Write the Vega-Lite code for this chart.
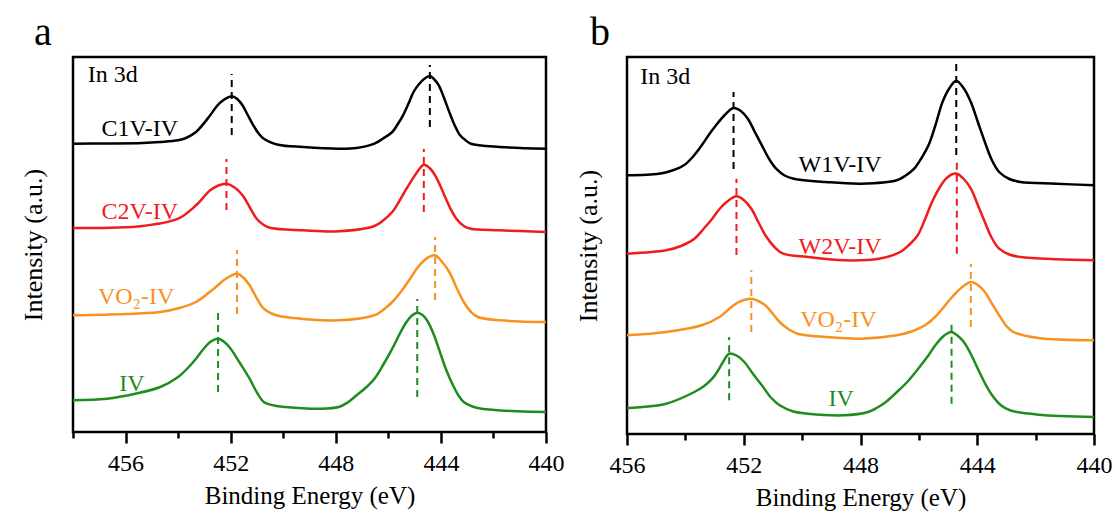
{
  "$schema": "https://vega.github.io/schema/vega-lite/v6.json",
  "background": "white",
  "padding": {"left": 18, "top": 11, "right": 5, "bottom": 5},
  "spacing": 81,
  "bounds": "flush",
  "config": {
    "view": {"stroke": "black", "strokeWidth": 2.5},
    "font": "Liberation Serif, serif"
  },
  "resolve": {"scale": {"color": "shared"}},
  "datasets": {
    "ca": [
      {"series": "C1V-IV", "be": 458.0, "intensity": 288.3}, {"series": "C1V-IV", "be": 456.7, "intensity": 288.5}, {"series": "C1V-IV", "be": 455.35, "intensity": 289}, {"series": "C1V-IV", "be": 454.68, "intensity": 290}, {"series": "C1V-IV", "be": 454.0, "intensity": 291.7}, {"series": "C1V-IV", "be": 453.32, "intensity": 300}, {"series": "C1V-IV", "be": 452.78, "intensity": 316.7}, {"series": "C1V-IV", "be": 452.37, "intensity": 330}, {"series": "C1V-IV", "be": 451.96, "intensity": 335.7}, {"series": "C1V-IV", "be": 451.55, "intensity": 326.7}, {"series": "C1V-IV", "be": 451.14, "intensity": 306.7}, {"series": "C1V-IV", "be": 450.74, "intensity": 293.3}, {"series": "C1V-IV", "be": 450.19, "intensity": 287.3}, {"series": "C1V-IV", "be": 449.24, "intensity": 285}, {"series": "C1V-IV", "be": 447.89, "intensity": 283.3}, {"series": "C1V-IV", "be": 447.21, "intensity": 284}, {"series": "C1V-IV", "be": 446.53, "intensity": 288.3}, {"series": "C1V-IV", "be": 445.85, "intensity": 300}, {"series": "C1V-IV", "be": 445.44, "intensity": 316.7}, {"series": "C1V-IV", "be": 445.04, "intensity": 340}, {"series": "C1V-IV", "be": 444.63, "intensity": 353.3}, {"series": "C1V-IV", "be": 444.42, "intensity": 356}, {"series": "C1V-IV", "be": 444.08, "intensity": 346.7}, {"series": "C1V-IV", "be": 443.68, "intensity": 320}, {"series": "C1V-IV", "be": 443.27, "intensity": 296.7}, {"series": "C1V-IV", "be": 442.86, "intensity": 288.3}, {"series": "C1V-IV", "be": 441.77, "intensity": 285}, {"series": "C1V-IV", "be": 440.0, "intensity": 283.3},
      {"series": "C1V-IV", "be": 453.7, "intensity": 294}, {"series": "C1V-IV", "be": 452.55, "intensity": 325}, {"series": "C1V-IV", "be": 451.75, "intensity": 333}, {"series": "C1V-IV", "be": 451.35, "intensity": 317}, {"series": "C1V-IV", "be": 450.95, "intensity": 299}, {"series": "C1V-IV", "be": 446.2, "intensity": 293.5}, {"series": "C1V-IV", "be": 445.65, "intensity": 307.5}, {"series": "C1V-IV", "be": 445.24, "intensity": 328}, {"series": "C1V-IV", "be": 444.83, "intensity": 348}, {"series": "C1V-IV", "be": 444.25, "intensity": 352.5}, {"series": "C1V-IV", "be": 443.88, "intensity": 334}, {"series": "C1V-IV", "be": 443.48, "intensity": 307}, {"series": "C1V-IV", "be": 443.05, "intensity": 291.5},
      {"series": "C2V-IV", "be": 458.0, "intensity": 204}, {"series": "C2V-IV", "be": 455.35, "intensity": 206}, {"series": "C2V-IV", "be": 454.0, "intensity": 213.3}, {"series": "C2V-IV", "be": 453.32, "intensity": 226.7}, {"series": "C2V-IV", "be": 452.78, "intensity": 241.7}, {"series": "C2V-IV", "be": 452.16, "intensity": 248.3}, {"series": "C2V-IV", "be": 451.55, "intensity": 236.7}, {"series": "C2V-IV", "be": 451.01, "intensity": 213.3}, {"series": "C2V-IV", "be": 450.47, "intensity": 204}, {"series": "C2V-IV", "be": 449.24, "intensity": 201.7}, {"series": "C2V-IV", "be": 447.89, "intensity": 200.7}, {"series": "C2V-IV", "be": 446.53, "intensity": 206}, {"series": "C2V-IV", "be": 445.85, "intensity": 220}, {"series": "C2V-IV", "be": 445.31, "intensity": 243.3}, {"series": "C2V-IV", "be": 444.9, "intensity": 260}, {"series": "C2V-IV", "be": 444.65, "intensity": 267.3}, {"series": "C2V-IV", "be": 444.22, "intensity": 256.7}, {"series": "C2V-IV", "be": 443.81, "intensity": 233.3}, {"series": "C2V-IV", "be": 443.41, "intensity": 213.3}, {"series": "C2V-IV", "be": 442.86, "intensity": 203.3}, {"series": "C2V-IV", "be": 441.77, "intensity": 201.7}, {"series": "C2V-IV", "be": 440.0, "intensity": 200},
      {"series": "C2V-IV", "be": 452.47, "intensity": 246.5}, {"series": "C2V-IV", "be": 451.85, "intensity": 244.5}, {"series": "C2V-IV", "be": 451.28, "intensity": 225}, {"series": "C2V-IV", "be": 450.74, "intensity": 207}, {"series": "C2V-IV", "be": 446.2, "intensity": 211.5}, {"series": "C2V-IV", "be": 445.58, "intensity": 231}, {"series": "C2V-IV", "be": 444.43, "intensity": 264}, {"series": "C2V-IV", "be": 444.02, "intensity": 246}, {"series": "C2V-IV", "be": 443.61, "intensity": 222}, {"series": "C2V-IV", "be": 443.13, "intensity": 206},
      {"series": "VO2-IV", "be": 458.0, "intensity": 116.7}, {"series": "VO2-IV", "be": 456.0, "intensity": 118}, {"series": "VO2-IV", "be": 454.68, "intensity": 120}, {"series": "VO2-IV", "be": 453.32, "intensity": 130}, {"series": "VO2-IV", "be": 452.64, "intensity": 143.3}, {"series": "VO2-IV", "be": 452.2, "intensity": 153}, {"series": "VO2-IV", "be": 451.76, "intensity": 158.3}, {"series": "VO2-IV", "be": 451.5, "intensity": 154}, {"series": "VO2-IV", "be": 451.28, "intensity": 146.7}, {"series": "VO2-IV", "be": 450.74, "intensity": 123.3}, {"series": "VO2-IV", "be": 449.92, "intensity": 115}, {"series": "VO2-IV", "be": 447.89, "intensity": 111.7}, {"series": "VO2-IV", "be": 446.53, "intensity": 116.7}, {"series": "VO2-IV", "be": 445.85, "intensity": 130}, {"series": "VO2-IV", "be": 445.17, "intensity": 153.3}, {"series": "VO2-IV", "be": 444.63, "intensity": 171.7}, {"series": "VO2-IV", "be": 444.22, "intensity": 176.7}, {"series": "VO2-IV", "be": 443.68, "intensity": 160}, {"series": "VO2-IV", "be": 443.13, "intensity": 130}, {"series": "VO2-IV", "be": 442.59, "intensity": 115}, {"series": "VO2-IV", "be": 441.77, "intensity": 111.7}, {"series": "VO2-IV", "be": 440.0, "intensity": 110},
      {"series": "VO2-IV", "be": 453.95, "intensity": 124}, {"series": "VO2-IV", "be": 451.0, "intensity": 133.5}, {"series": "VO2-IV", "be": 450.35, "intensity": 117.5}, {"series": "VO2-IV", "be": 446.2, "intensity": 122}, {"series": "VO2-IV", "be": 445.5, "intensity": 141}, {"series": "VO2-IV", "be": 444.9, "intensity": 164}, {"series": "VO2-IV", "be": 444.42, "intensity": 175.5}, {"series": "VO2-IV", "be": 443.95, "intensity": 170}, {"series": "VO2-IV", "be": 443.4, "intensity": 144}, {"series": "VO2-IV", "be": 442.85, "intensity": 120},
      {"series": "IV", "be": 458.0, "intensity": 31.7}, {"series": "IV", "be": 456.71, "intensity": 33.3}, {"series": "IV", "be": 455.63, "intensity": 38.3}, {"series": "IV", "be": 454.68, "intensity": 45}, {"series": "IV", "be": 454.0, "intensity": 55}, {"series": "IV", "be": 453.32, "intensity": 73.3}, {"series": "IV", "be": 452.78, "intensity": 90}, {"series": "IV", "be": 452.48, "intensity": 93.3}, {"series": "IV", "be": 452.0, "intensity": 83.3}, {"series": "IV", "be": 451.28, "intensity": 53.3}, {"series": "IV", "be": 450.74, "intensity": 30}, {"series": "IV", "be": 449.92, "intensity": 25}, {"series": "IV", "be": 448.57, "intensity": 23.3}, {"series": "IV", "be": 447.89, "intensity": 25}, {"series": "IV", "be": 447.21, "intensity": 36.7}, {"series": "IV", "be": 446.53, "intensity": 53.3}, {"series": "IV", "be": 445.85, "intensity": 83.3}, {"series": "IV", "be": 445.31, "intensity": 110}, {"series": "IV", "be": 444.9, "intensity": 119.3}, {"series": "IV", "be": 444.49, "intensity": 110}, {"series": "IV", "be": 444.08, "intensity": 83.3}, {"series": "IV", "be": 443.54, "intensity": 46.7}, {"series": "IV", "be": 443.13, "intensity": 30}, {"series": "IV", "be": 442.45, "intensity": 23.3}, {"series": "IV", "be": 441.09, "intensity": 20.7}, {"series": "IV", "be": 440.0, "intensity": 20},
      {"series": "IV", "be": 453.65, "intensity": 63.5}, {"series": "IV", "be": 453.05, "intensity": 82.5}, {"series": "IV", "be": 452.24, "intensity": 90}, {"series": "IV", "be": 451.65, "intensity": 69}, {"series": "IV", "be": 451.0, "intensity": 39.5}, {"series": "IV", "be": 450.35, "intensity": 26.5}, {"series": "IV", "be": 447.55, "intensity": 29.5}, {"series": "IV", "be": 446.87, "intensity": 44}, {"series": "IV", "be": 446.2, "intensity": 67}, {"series": "IV", "be": 445.58, "intensity": 97.5}, {"series": "IV", "be": 445.1, "intensity": 116.5}, {"series": "IV", "be": 444.7, "intensity": 117}, {"series": "IV", "be": 444.28, "intensity": 98}, {"series": "IV", "be": 443.81, "intensity": 63}, {"series": "IV", "be": 443.33, "intensity": 36.5}, {"series": "IV", "be": 442.8, "intensity": 25.5}
    ],
    "ra": [
      {"series": "C1V-IV", "be": 451.96, "intensity": 297, "intensity2": 358}, {"series": "C1V-IV", "be": 444.42, "intensity": 305, "intensity2": 367},
      {"series": "C2V-IV", "be": 452.16, "intensity": 222, "intensity2": 273}, {"series": "C2V-IV", "be": 444.65, "intensity": 220, "intensity2": 283},
      {"series": "VO2-IV", "be": 451.76, "intensity": 118, "intensity2": 182}, {"series": "VO2-IV", "be": 444.22, "intensity": 132, "intensity2": 195},
      {"series": "IV", "be": 452.48, "intensity": 40, "intensity2": 120}, {"series": "IV", "be": 444.9, "intensity": 35, "intensity2": 133}
    ],
    "la": [
      {"series": "C1V-IV", "label": "C1V-IV", "be": 455.46, "intensity": 303},
      {"series": "C2V-IV", "label": "C2V-IV", "be": 455.46, "intensity": 220},
      {"series": "VO2-IV", "label": "VO₂-IV", "be": 455.6, "intensity": 135},
      {"series": "IV", "label": "IV", "be": 455.76, "intensity": 48}
    ],
    "cb": [
      {"series": "W1V-IV", "be": 456.0, "intensity": 258.7}, {"series": "W1V-IV", "be": 454.9, "intensity": 260.3}, {"series": "W1V-IV", "be": 454.05, "intensity": 268.7}, {"series": "W1V-IV", "be": 453.44, "intensity": 288.7}, {"series": "W1V-IV", "be": 452.95, "intensity": 308.7}, {"series": "W1V-IV", "be": 452.35, "intensity": 326}, {"series": "W1V-IV", "be": 451.86, "intensity": 315.3}, {"series": "W1V-IV", "be": 451.38, "intensity": 288.7}, {"series": "W1V-IV", "be": 450.89, "intensity": 265.3}, {"series": "W1V-IV", "be": 450.29, "intensity": 255.3}, {"series": "W1V-IV", "be": 449.19, "intensity": 252}, {"series": "W1V-IV", "be": 447.98, "intensity": 250.3}, {"series": "W1V-IV", "be": 446.76, "intensity": 253.7}, {"series": "W1V-IV", "be": 446.16, "intensity": 265.3}, {"series": "W1V-IV", "be": 445.67, "intensity": 288.7}, {"series": "W1V-IV", "be": 445.19, "intensity": 332}, {"series": "W1V-IV", "be": 444.72, "intensity": 353.3}, {"series": "W1V-IV", "be": 444.22, "intensity": 332}, {"series": "W1V-IV", "be": 443.74, "intensity": 292}, {"series": "W1V-IV", "be": 443.25, "intensity": 262}, {"series": "W1V-IV", "be": 442.52, "intensity": 252}, {"series": "W1V-IV", "be": 441.3, "intensity": 250.3}, {"series": "W1V-IV", "be": 440.0, "intensity": 248.7},
      {"series": "W1V-IV", "be": 454.45, "intensity": 263.5}, {"series": "W1V-IV", "be": 453.75, "intensity": 277}, {"series": "W1V-IV", "be": 453.2, "intensity": 299}, {"series": "W1V-IV", "be": 452.65, "intensity": 319}, {"series": "W1V-IV", "be": 452.1, "intensity": 323}, {"series": "W1V-IV", "be": 451.62, "intensity": 302}, {"series": "W1V-IV", "be": 451.13, "intensity": 275}, {"series": "W1V-IV", "be": 450.6, "intensity": 258.5}, {"series": "W1V-IV", "be": 446.45, "intensity": 258.5}, {"series": "W1V-IV", "be": 445.92, "intensity": 275.5}, {"series": "W1V-IV", "be": 445.43, "intensity": 309}, {"series": "W1V-IV", "be": 444.95, "intensity": 346}, {"series": "W1V-IV", "be": 444.47, "intensity": 346}, {"series": "W1V-IV", "be": 443.98, "intensity": 312}, {"series": "W1V-IV", "be": 443.5, "intensity": 274}, {"series": "W1V-IV", "be": 442.9, "intensity": 255},
      {"series": "W2V-IV", "be": 456.0, "intensity": 180.3}, {"series": "W2V-IV", "be": 454.66, "intensity": 183.7}, {"series": "W2V-IV", "be": 453.69, "intensity": 195.3}, {"series": "W2V-IV", "be": 453.08, "intensity": 215.3}, {"series": "W2V-IV", "be": 452.59, "intensity": 232}, {"series": "W2V-IV", "be": 452.25, "intensity": 237.7}, {"series": "W2V-IV", "be": 451.74, "intensity": 225.3}, {"series": "W2V-IV", "be": 451.26, "intensity": 198.7}, {"series": "W2V-IV", "be": 450.65, "intensity": 180.3}, {"series": "W2V-IV", "be": 449.8, "intensity": 177}, {"series": "W2V-IV", "be": 448.58, "intensity": 173.7}, {"series": "W2V-IV", "be": 447.37, "intensity": 175.3}, {"series": "W2V-IV", "be": 446.64, "intensity": 182}, {"series": "W2V-IV", "be": 446.04, "intensity": 198.7}, {"series": "W2V-IV", "be": 445.55, "intensity": 232}, {"series": "W2V-IV", "be": 445.07, "intensity": 255.3}, {"series": "W2V-IV", "be": 444.7, "intensity": 260.3}, {"series": "W2V-IV", "be": 444.22, "intensity": 245.3}, {"series": "W2V-IV", "be": 443.74, "intensity": 212}, {"series": "W2V-IV", "be": 443.25, "intensity": 185.3}, {"series": "W2V-IV", "be": 442.52, "intensity": 177}, {"series": "W2V-IV", "be": 441.3, "intensity": 174.7}, {"series": "W2V-IV", "be": 440.0, "intensity": 173.7},
      {"series": "W2V-IV", "be": 454.15, "intensity": 188}, {"series": "W2V-IV", "be": 453.38, "intensity": 205}, {"series": "W2V-IV", "be": 452.83, "intensity": 225}, {"series": "W2V-IV", "be": 452.0, "intensity": 234}, {"series": "W2V-IV", "be": 451.5, "intensity": 212}, {"series": "W2V-IV", "be": 450.95, "intensity": 187}, {"series": "W2V-IV", "be": 446.34, "intensity": 189}, {"series": "W2V-IV", "be": 445.8, "intensity": 214}, {"series": "W2V-IV", "be": 445.3, "intensity": 246}, {"series": "W2V-IV", "be": 444.88, "intensity": 259.5}, {"series": "W2V-IV", "be": 444.46, "intensity": 255}, {"series": "W2V-IV", "be": 443.98, "intensity": 229}, {"series": "W2V-IV", "be": 443.5, "intensity": 196}, {"series": "W2V-IV", "be": 442.9, "intensity": 179.5},
      {"series": "VO2-IV", "be": 456.0, "intensity": 98.7}, {"series": "VO2-IV", "be": 454.66, "intensity": 102}, {"series": "VO2-IV", "be": 453.44, "intensity": 108.7}, {"series": "VO2-IV", "be": 452.83, "intensity": 117}, {"series": "VO2-IV", "be": 452.35, "intensity": 128.7}, {"series": "VO2-IV", "be": 451.74, "intensity": 135.3}, {"series": "VO2-IV", "be": 451.26, "intensity": 128.7}, {"series": "VO2-IV", "be": 450.77, "intensity": 112}, {"series": "VO2-IV", "be": 450.16, "intensity": 100.3}, {"series": "VO2-IV", "be": 449.19, "intensity": 97}, {"series": "VO2-IV", "be": 447.98, "intensity": 95.3}, {"series": "VO2-IV", "be": 446.76, "intensity": 98.7}, {"series": "VO2-IV", "be": 445.79, "intensity": 108.7}, {"series": "VO2-IV", "be": 445.19, "intensity": 125.3}, {"series": "VO2-IV", "be": 444.7, "intensity": 142}, {"series": "VO2-IV", "be": 444.22, "intensity": 152}, {"series": "VO2-IV", "be": 443.74, "intensity": 142}, {"series": "VO2-IV", "be": 443.25, "intensity": 118.7}, {"series": "VO2-IV", "be": 442.76, "intensity": 102}, {"series": "VO2-IV", "be": 441.91, "intensity": 96}, {"series": "VO2-IV", "be": 440.0, "intensity": 93.7},
      {"series": "VO2-IV", "be": 452.05, "intensity": 133.5}, {"series": "VO2-IV", "be": 451.5, "intensity": 133}, {"series": "VO2-IV", "be": 451.0, "intensity": 120}, {"series": "VO2-IV", "be": 450.45, "intensity": 104.5}, {"series": "VO2-IV", "be": 446.25, "intensity": 102.5}, {"series": "VO2-IV", "be": 445.48, "intensity": 116}, {"series": "VO2-IV", "be": 444.95, "intensity": 134}, {"series": "VO2-IV", "be": 444.45, "intensity": 148.5}, {"series": "VO2-IV", "be": 443.98, "intensity": 149}, {"series": "VO2-IV", "be": 443.5, "intensity": 130.5}, {"series": "VO2-IV", "be": 443.0, "intensity": 108},
      {"series": "IV", "be": 456.0, "intensity": 26}, {"series": "IV", "be": 454.66, "intensity": 30.3}, {"series": "IV", "be": 453.69, "intensity": 42}, {"series": "IV", "be": 453.08, "intensity": 55.3}, {"series": "IV", "be": 452.71, "intensity": 72}, {"series": "IV", "be": 452.5, "intensity": 80.3}, {"series": "IV", "be": 451.98, "intensity": 72}, {"series": "IV", "be": 451.38, "intensity": 48.7}, {"series": "IV", "be": 450.77, "intensity": 28.7}, {"series": "IV", "be": 449.8, "intensity": 20.3}, {"series": "IV", "be": 448.58, "intensity": 18.7}, {"series": "IV", "be": 447.74, "intensity": 22}, {"series": "IV", "be": 447.13, "intensity": 32}, {"series": "IV", "be": 446.4, "intensity": 52}, {"series": "IV", "be": 445.67, "intensity": 78.7}, {"series": "IV", "be": 445.19, "intensity": 97}, {"series": "IV", "be": 444.88, "intensity": 102}, {"series": "IV", "be": 444.46, "intensity": 92}, {"series": "IV", "be": 443.98, "intensity": 65.3}, {"series": "IV", "be": 443.49, "intensity": 38.7}, {"series": "IV", "be": 442.88, "intensity": 23.7}, {"series": "IV", "be": 441.91, "intensity": 19.3}, {"series": "IV", "be": 440.0, "intensity": 17},
      {"series": "IV", "be": 453.38, "intensity": 47.5}, {"series": "IV", "be": 452.88, "intensity": 63.5}, {"series": "IV", "be": 452.25, "intensity": 78.5}, {"series": "IV", "be": 451.68, "intensity": 60}, {"series": "IV", "be": 451.07, "intensity": 36.5}, {"series": "IV", "be": 450.3, "intensity": 22.5}, {"series": "IV", "be": 447.45, "intensity": 26}, {"series": "IV", "be": 446.77, "intensity": 41.5}, {"series": "IV", "be": 446.03, "intensity": 65}, {"series": "IV", "be": 445.43, "intensity": 89}, {"series": "IV", "be": 445.03, "intensity": 100.5}, {"series": "IV", "be": 444.68, "intensity": 98.5}, {"series": "IV", "be": 444.22, "intensity": 80}, {"series": "IV", "be": 443.74, "intensity": 51}, {"series": "IV", "be": 443.2, "intensity": 29}
    ],
    "rb": [
      {"series": "W1V-IV", "be": 452.35, "intensity": 265, "intensity2": 342}, {"series": "W1V-IV", "be": 444.72, "intensity": 279, "intensity2": 372},
      {"series": "W2V-IV", "be": 452.25, "intensity": 179, "intensity2": 255.3}, {"series": "W2V-IV", "be": 444.7, "intensity": 180.3, "intensity2": 272},
      {"series": "VO2-IV", "be": 451.74, "intensity": 102, "intensity2": 163.7}, {"series": "VO2-IV", "be": 444.22, "intensity": 107, "intensity2": 170.3},
      {"series": "IV", "be": 452.5, "intensity": 33.7, "intensity2": 97}, {"series": "IV", "be": 444.88, "intensity": 30.3, "intensity2": 113.7}
    ],
    "lb": [
      {"series": "W1V-IV", "label": "W1V-IV", "be": 448.7, "intensity": 269},
      {"series": "W2V-IV", "label": "W2V-IV", "be": 448.7, "intensity": 187},
      {"series": "VO2-IV", "label": "VO₂-IV", "be": 448.76, "intensity": 114},
      {"series": "IV", "label": "IV", "be": 448.66, "intensity": 35}
    ]
  },
  "hconcat": [
    {
      "width": 473,
      "height": 375,
      "title": {"text": "a", "anchor": "start", "frame": "group", "dx": -39, "offset": -36, "baseline": "bottom", "fontSize": 40, "font": "Liberation Serif, serif", "fontWeight": "normal", "color": "black"},
      "encoding": {
        "x": {"field": "be", "type": "quantitative",
          "scale": {"domain": [440, 458], "reverse": true, "nice": false, "zero": false},
          "axis": {"title": "Binding Energy (eV)", "values": [458, 456, 454, 452, 450, 448, 446, 444, 442, 440],
            "labelExpr": "datum.value % 4 === 0 ? datum.label : ''",
            "tickSize": {"condition": {"test": "datum.value % 4 === 0", "value": 11}, "value": 6},
            "grid": false, "domain": false, "tickColor": "black", "tickWidth": 2.5,
            "labelFont": "Liberation Serif, serif", "labelFontSize": 24, "labelColor": "black", "labelPadding": 8, "labelFlush": false, "labelOverlap": false,
            "titleFont": "Liberation Serif, serif", "titleFontSize": 25, "titleFontWeight": "normal", "titleColor": "black", "titlePadding": 8}},
        "y": {"field": "intensity", "type": "quantitative",
          "scale": {"domain": [0, 375], "nice": false, "zero": false},
          "axis": {"title": "Intensity (a.u.)", "ticks": false, "labels": false, "domain": false, "grid": false,
            "titleFont": "Liberation Serif, serif", "titleFontSize": 26, "titleFontWeight": "normal", "titleColor": "black", "titlePadding": 27}}
      },
      "layer": [
        {"data": {"name": "ca"}, "mark": {"type": "line", "interpolate": "catmull-rom", "strokeWidth": 2.5},
          "encoding": {"color": {"field": "series", "type": "nominal", "legend": null,
            "scale": {"domain": ["C1V-IV", "W1V-IV", "C2V-IV", "W2V-IV", "VO2-IV", "IV"], "range": ["#000000", "#000000", "#f01c1c", "#f01c1c", "#f7921e", "#1f8c1f"]}}}},
        {"data": {"name": "ra"}, "mark": {"type": "rule", "strokeWidth": 2, "strokeDash": [7, 5]},
          "encoding": {"y2": {"field": "intensity2"}, "color": {"field": "series", "type": "nominal", "legend": null}}},
        {"data": {"name": "la"}, "mark": {"type": "text", "font": "Liberation Serif, serif", "fontSize": 24, "align": "center", "baseline": "middle"},
          "encoding": {"text": {"field": "label"}, "color": {"field": "series", "type": "nominal", "legend": null}}},
        {"data": {"values": [{"label": "In 3d", "be": 457.44, "intensity": 357}]}, "mark": {"type": "text", "font": "Liberation Serif, serif", "fontSize": 24, "align": "left", "baseline": "middle", "color": "black"},
          "encoding": {"text": {"field": "label"}}}
      ]
    },
    {
      "width": 467,
      "height": 377,
      "title": {"text": "b", "anchor": "start", "frame": "group", "dx": -37, "offset": -36, "baseline": "bottom", "fontSize": 40, "font": "Liberation Serif, serif", "fontWeight": "normal", "color": "black"},
      "encoding": {
        "x": {"field": "be", "type": "quantitative",
          "scale": {"domain": [440, 456], "reverse": true, "nice": false, "zero": false},
          "axis": {"title": "Binding Energy (eV)", "values": [456, 454, 452, 450, 448, 446, 444, 442, 440],
            "labelExpr": "datum.value % 4 === 0 ? datum.label : ''",
            "tickSize": {"condition": {"test": "datum.value % 4 === 0", "value": 11}, "value": 6},
            "grid": false, "domain": false, "tickColor": "black", "tickWidth": 2.5,
            "labelFont": "Liberation Serif, serif", "labelFontSize": 24, "labelColor": "black", "labelPadding": 8, "labelFlush": false, "labelOverlap": false,
            "titleFont": "Liberation Serif, serif", "titleFontSize": 25, "titleFontWeight": "normal", "titleColor": "black", "titlePadding": 8}},
        "y": {"field": "intensity", "type": "quantitative",
          "scale": {"domain": [0, 377], "nice": false, "zero": false},
          "axis": {"title": "Intensity (a.u.)", "ticks": false, "labels": false, "domain": false, "grid": false,
            "titleFont": "Liberation Serif, serif", "titleFontSize": 26, "titleFontWeight": "normal", "titleColor": "black", "titlePadding": 26}}
      },
      "layer": [
        {"data": {"name": "cb"}, "mark": {"type": "line", "interpolate": "catmull-rom", "strokeWidth": 2.5},
          "encoding": {"color": {"field": "series", "type": "nominal", "legend": null}}},
        {"data": {"name": "rb"}, "mark": {"type": "rule", "strokeWidth": 2, "strokeDash": [7, 5]},
          "encoding": {"y2": {"field": "intensity2"}, "color": {"field": "series", "type": "nominal", "legend": null}}},
        {"data": {"name": "lb"}, "mark": {"type": "text", "font": "Liberation Serif, serif", "fontSize": 24, "align": "center", "baseline": "middle"},
          "encoding": {"text": {"field": "label"}, "color": {"field": "series", "type": "nominal", "legend": null}}},
        {"data": {"values": [{"label": "In 3d", "be": 455.55, "intensity": 357}]}, "mark": {"type": "text", "font": "Liberation Serif, serif", "fontSize": 24, "align": "left", "baseline": "middle", "color": "black"},
          "encoding": {"text": {"field": "label"}}}
      ]
    }
  ]
}
